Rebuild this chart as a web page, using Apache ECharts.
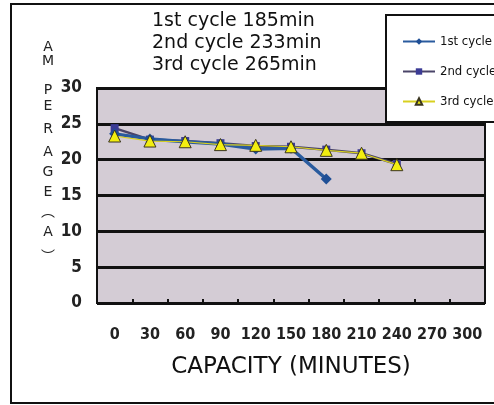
<!DOCTYPE html>
<html>
<head>
<meta charset="utf-8">
<script src="https://cdn.jsdelivr.net/npm/echarts@6/dist/echarts.min.js"></script>
<style>html,body{margin:0;padding:0;background:#fff;}#c{width:494px;height:405px;}</style>
</head>
<body>
<div id="c"></div>
<script>
var categories = ['0','30','60','90','120','150','180','210','240','270','300'];
var cycle1 = [23.6, 22.9, 22.5, 22.2, 21.5, 21.6, 17.3];
var cycle2 = [24.4, 22.8, 22.6, 22.3, 21.9, 21.8, 21.4, 20.9, 19.4];
var cycle3 = [23.3, 22.6, 22.5, 22.1, 22.0, 21.8, 21.3, 20.9, 19.3];
var seriesNames = ['1st cycle', '2nd cycle', '3rd cycle'];
var titleLines = ['1st cycle 185min', '2nd cycle 233min', '3rd cycle 265min'];
var yTicks = [0, 30, 5];

var chart = echarts.init(document.getElementById('c'));
var narrow = "'Liberation Sans Narrow', 'DejaVu Sans Condensed', sans-serif";
var cond = "'DejaVu Sans Condensed', 'Liberation Sans Narrow', sans-serif";
var gothic = "'DejaVu Sans', 'Noto Sans', sans-serif";
var yName = [['A',47],['M',61],['P',90],['E',106],['R',129],['A',152],['G',172],['E',192],['\uFE35',211],['A',232],['\uFE36',256]];
var graphics = [
  {type:'rect', shape:{x:11,y:4,width:520,height:399}, style:{fill:null, stroke:'#111', lineWidth:2}, z:1},
  {type:'rect', shape:{x:386,y:15,width:130,height:107}, style:{fill:'#fff', stroke:'#111', lineWidth:2}, z:50}
];
yName.forEach(function(p){
  graphics.push({type:'text', x:48, y:p[1], style:{text:p[0], fontFamily: p[0].charCodeAt(0)>255 ? "'Noto Sans CJK SC', sans-serif" : gothic, fontSize:14, fill:'#222', align:'center', verticalAlign:'middle'}});
});
titleLines.forEach(function(t,i){
  graphics.push({type:'text', x:152, y:21 + i*22, style:{text:t, fontFamily:gothic, fontSize:19, fill:'#111', align:'left', verticalAlign:'middle'}});
});

chart.setOption({
  animation:false,
  backgroundColor:'#fff',
  graphic: graphics,
  grid:{left:97, right:9, top:88, bottom:102, show:true, backgroundColor:'#d4ccd5', borderColor:'#111', borderWidth:2},
  legend:{
    orient:'vertical', left:397, top:30, itemGap:17, itemWidth:32, itemHeight:8, z:60,
    data: seriesNames,
    textStyle:{fontFamily:cond, fontSize:13, color:'#111'}
  },
  xAxis:{
    type:'category', data:categories, boundaryGap:true,
    name:'CAPACITY (MINUTES)', nameLocation:'middle', nameGap:53,
    nameTextStyle:{fontFamily:gothic, fontSize:23, color:'#111'},
    axisLine:{lineStyle:{color:'#111', width:2}},
    axisTick:{show:true, inside:true, length:4, lineStyle:{color:'#111', width:2}},
    axisLabel:{interval:0, fontFamily:narrow, fontWeight:'bold', fontSize:16, color:'#222', margin:24},
    splitLine:{show:false}
  },
  yAxis:{
    type:'value', min:yTicks[0], max:yTicks[1], interval:yTicks[2],
    axisLine:{show:true, lineStyle:{color:'#111', width:2}},
    axisTick:{show:false},
    axisLabel:{fontFamily:narrow, fontWeight:'bold', fontSize:17, color:'#222', margin:15},
    splitLine:{show:true, lineStyle:{color:'#111', width:3}}
  },
  series:[
    {name:seriesNames[1], type:'line', data:cycle2, symbol:'rect', symbolSize:8, z:3,
     itemStyle:{color:'#3b3b95'}, lineStyle:{color:'#4a4468', width:2.5}},
    {name:seriesNames[0], type:'line', data:cycle1, symbol:'diamond', symbolSize:11, z:4,
     itemStyle:{color:'#1f4f96'}, lineStyle:{color:'#2a5b9e', width:3.5}},
    {name:seriesNames[2], type:'line', data:cycle3, symbol:'triangle', symbolSize:12, z:5,
     itemStyle:{color:'#f2ee10', borderColor:'#3a3520', borderWidth:1}, lineStyle:{color:'#d8d020', width:1.2}}
  ]
});
</script>
</body>
</html>
